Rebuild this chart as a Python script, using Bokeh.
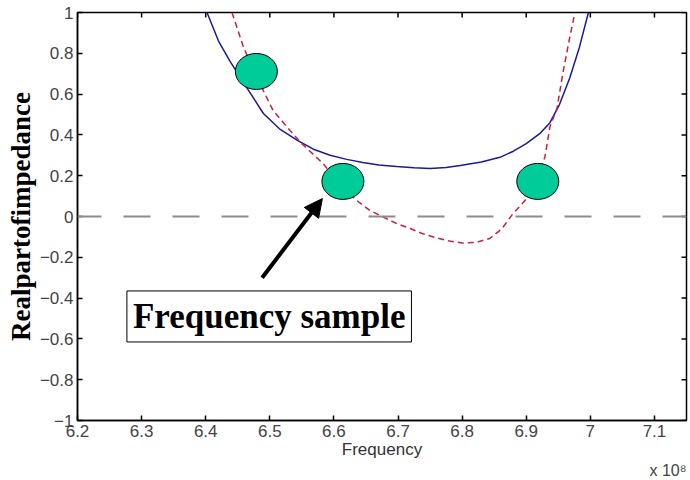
from math import pi
from bokeh.plotting import figure
from bokeh.models import (Range1d, FixedTicker, LinearAxis, Span, Label, Arrow,
                          NormalHead, Title)
from bokeh.embed import file_html
from bokeh.resources import INLINE

# ---- data (frequency in units of 1e8 Hz) ----
blue_freq = [6.402, 6.42, 6.438, 6.465, 6.49, 6.515, 6.543, 6.568, 6.594, 6.62, 6.645,
             6.67, 6.698, 6.725, 6.75, 6.775, 6.797, 6.83, 6.859, 6.88, 6.90, 6.921,
             6.937, 6.952, 6.968, 6.983, 6.997]
blue_re = [1.0, 0.86, 0.76, 0.627, 0.505, 0.43, 0.373, 0.33, 0.30, 0.28, 0.265,
           0.253, 0.245, 0.239, 0.235, 0.24, 0.25, 0.267, 0.29, 0.32, 0.357, 0.406,
           0.46, 0.55, 0.68, 0.83, 1.0]

red_freq = [6.441, 6.459, 6.48, 6.505, 6.532, 6.55, 6.583, 6.614, 6.635, 6.656,
            6.675, 6.698, 6.72, 6.739, 6.76, 6.78, 6.80, 6.822, 6.843, 6.862,
            6.879, 6.898, 6.915, 6.929, 6.937, 6.948, 6.957, 6.968, 6.976]
red_re = [1.0, 0.83, 0.68, 0.52, 0.42, 0.357, 0.26, 0.14, 0.08, 0.03,
          0.0, -0.035, -0.06, -0.085, -0.105, -0.12, -0.13, -0.127, -0.108, -0.06,
          0.013, 0.078, 0.17, 0.29, 0.44, 0.53, 0.70, 0.88, 1.0]

sample_freq = [6.479, 6.614, 6.918]
sample_re = [0.711, 0.172, 0.172]

x_min, x_max = 6.2, 7.15
y_min, y_max = -1, 1
x_ticks = [6.2, 6.3, 6.4, 6.5, 6.6, 6.7, 6.8, 6.9, 7.0, 7.1]
x_tick_labels = ["6.2", "6.3", "6.4", "6.5", "6.6", "6.7", "6.8", "6.9", "7", "7.1"]
y_ticks = [-1, -0.8, -0.6, -0.4, -0.2, 0, 0.2, 0.4, 0.6, 0.8, 1]
y_tick_labels = ["\u22121", "\u22120.8", "\u22120.6", "\u22120.4", "\u22120.2", "0",
                 "0.2", "0.4", "0.6", "0.8", "1"]

arrow_start = (6.488, -0.30)
arrow_end = (6.582, 0.088)
callout_text = "Frequency sample"
callout_pos = (6.499, -0.49)
ylabel_text = "Realpartofimpedance"
xlabel_text = "Frequency"
exponent_text = "x 10\u2078"

# ---- figure ----
p = figure(width=690, height=480, output_backend="svg", toolbar_location=None,
           x_range=Range1d(x_min, x_max), y_range=Range1d(y_min, y_max),
           min_border_left=77, min_border_right=4, min_border_top=12,
           min_border_bottom=60, x_axis_location=None, y_axis_location=None)
p.outline_line_color = "black"
p.outline_line_width = 1.5
p.grid.visible = False
p.background_fill_color = "white"
p.border_fill_color = "white"

tick_font = "Liberation Sans"
tick_color = "#444444"

def style_axis(ax):
    ax.axis_line_color = "black"
    ax.axis_line_width = 1.5
    ax.major_tick_line_color = "black"
    ax.major_tick_line_width = 1.5
    ax.major_tick_in = 5
    ax.major_tick_out = 0
    ax.minor_tick_line_color = None
    ax.major_label_text_font = tick_font
    ax.major_label_text_color = tick_color
    ax.major_label_text_font_size = "17px"

xl = {t: s for t, s in zip(x_ticks, x_tick_labels)}
yl = {t: s for t, s in zip(y_ticks, y_tick_labels)}

bottom = LinearAxis(ticker=FixedTicker(ticks=x_ticks), major_label_overrides=xl)
style_axis(bottom)
bottom.major_label_standoff = 4
bottom.axis_label = xlabel_text
bottom.axis_label_text_font = tick_font
bottom.axis_label_text_font_style = "normal"
bottom.axis_label_text_font_size = "17px"
bottom.axis_label_text_color = "#333333"
bottom.axis_label_standoff = 0
p.add_layout(bottom, "below")

p.add_layout(Title(text=exponent_text, align="right", vertical_align="top",
                   text_font=tick_font, text_font_style="normal",
                   text_font_size="16px", text_color=tick_color, standoff=0,
                   offset=0), "below")

left = LinearAxis(ticker=FixedTicker(ticks=y_ticks), major_label_overrides=yl)
style_axis(left)
left.major_label_standoff = 4
left.axis_label = ylabel_text
left.axis_label_text_font = "Liberation Serif"
left.axis_label_text_font_style = "bold"
left.axis_label_text_font_size = "27px"
left.axis_label_text_color = "black"
left.axis_label_standoff = 1
p.add_layout(left, "left")

# inward ticks on top and right sides of the box
p.scatter(x=x_ticks, y=[y_max] * len(x_ticks), marker="dash", angle=pi / 2, size=10,
          line_color="black", line_width=1.5)
p.scatter(x=[x_max] * len(y_ticks), y=y_ticks, marker="dash", size=10,
          line_color="black", line_width=1.5)

# zero dashed line
p.add_layout(Span(location=0, dimension="width", line_color="#8c8c8c",
                  line_width=2, line_dash="27 22", line_dash_offset=3))

# curves
p.line(blue_freq, blue_re, line_color="#1a1a9c", line_width=1.5)
p.line(red_freq, red_re, line_color="#cc1f3a", line_width=1.5, line_dash="6 4")

# frequency samples
p.ellipse(x=sample_freq, y=sample_re, width=42, height=36, width_units="screen",
          height_units="screen", fill_color="#00cc99", line_color="black", line_width=1)

# arrow
p.add_layout(Arrow(x_start=arrow_start[0], y_start=arrow_start[1],
                   x_end=arrow_end[0], y_end=arrow_end[1],
                   line_color="black", line_width=4,
                   end=NormalHead(size=18, fill_color="black", line_color="black")))

# callout text box
p.add_layout(Label(x=callout_pos[0], y=callout_pos[1], text=callout_text,
                   text_font="Liberation Serif", text_font_style="bold",
                   text_font_size="35px", text_align="center", text_baseline="middle",
                   text_color="black", background_fill_color="white",
                   border_line_color="black", border_line_width=1, padding=6))

open("out.html", "w").write(file_html(p, INLINE))
